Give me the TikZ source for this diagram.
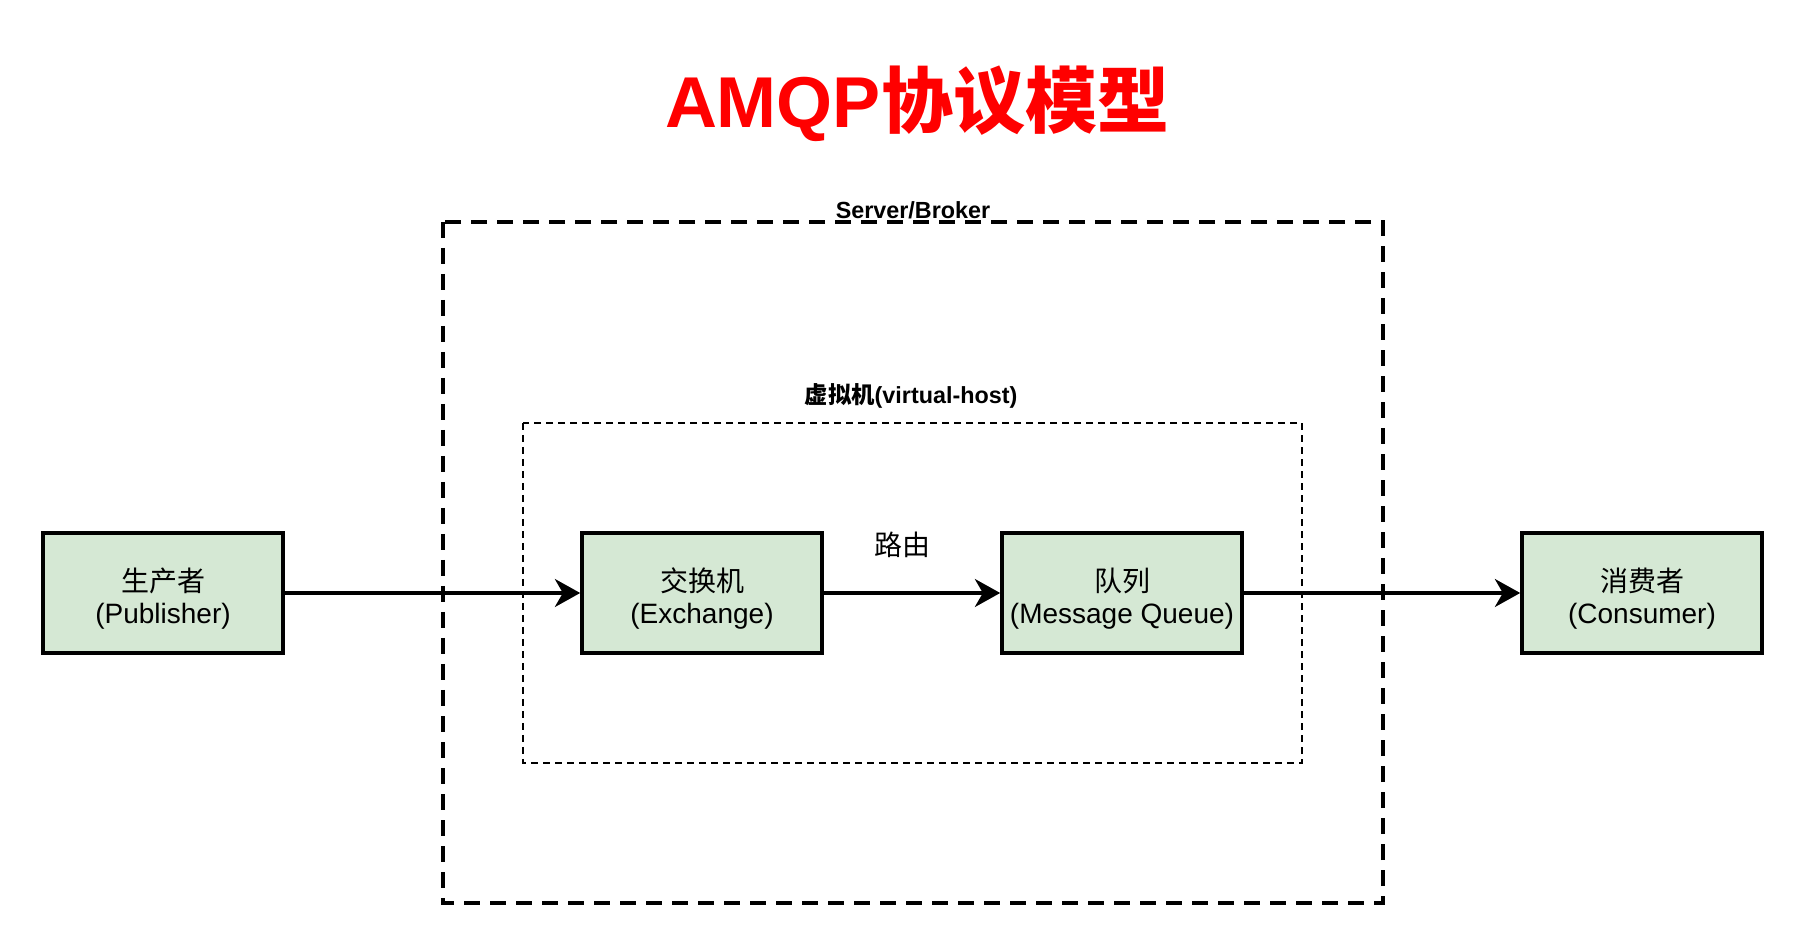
\documentclass[tikz,border=0pt]{standalone}
\usepackage{fontspec}
\setmainfont{Liberation Sans}
\newfontfamily\cjk{Noto Sans CJK SC}
\usetikzlibrary{arrows.meta}
\definecolor{boxgreen}{HTML}{D5E8D4}
\definecolor{titlered}{HTML}{FF0000}
\newcommand{\upstrut}{\rule{0pt}{26pt}}
\tikzset{
  px/.style={x=0.75pt,y=-0.75pt},
  compbox/.style={draw=black, fill=boxgreen, line width=2.7pt, minimum width=180pt, minimum height=90pt, align=center, inner sep=0pt, font=\fontsize{21}{24}\selectfont},
  flow/.style={draw=black, line width=2.6pt, -{Stealth[length=19pt,width=21pt,inset=6pt]}},
  outerbox/.style={draw=black, line width=2.6pt, dash pattern=on 12pt off 7.5pt},
  innerbox/.style={draw=black, line width=1.2pt, dash pattern=on 5pt off 4pt},
  grouplabel/.style={font=\bfseries\fontsize{17.5}{20}\selectfont, inner sep=0pt}
}
\begin{document}
\begin{tikzpicture}[px]
\path[use as bounding box, fill=white] (0,0) rectangle (1804,944);
\node[text=titlered, font=\bfseries\fontsize{54}{60}\selectfont, inner sep=0pt] (title) at (917,104) {AMQP{\cjk 协议模型}};
\draw[outerbox] (443,222) rectangle (1383,903);
\node[grouplabel, anchor=south] (srv) at (913,219) {Server/Broker};
\draw[innerbox] (523,423) rectangle (1302,763);
\node[grouplabel] (vh) at (911,396) {{\cjk 虚拟机}(virtual-host)};
\node[compbox] (pub) at (163,593) {\upstrut{\cjk 生产者}\\(Publisher)};
\node[compbox] (ex) at (702,593) {\upstrut{\cjk 交换机}\\(Exchange)};
\node[compbox] (mq) at (1122,593) {\upstrut{\cjk 队列}\\(Message Queue)};
\node[compbox] (con) at (1642,593) {\upstrut{\cjk 消费者}\\(Consumer)};
\draw[flow] (pub) -- (ex);
\draw[flow] (ex) -- node[above=25pt, font=\fontsize{21}{24}\selectfont, inner sep=0pt, xshift=-7pt] (route) {\cjk 路由} (mq);
\draw[flow] (mq) -- (con);
\end{tikzpicture}
\end{document}
